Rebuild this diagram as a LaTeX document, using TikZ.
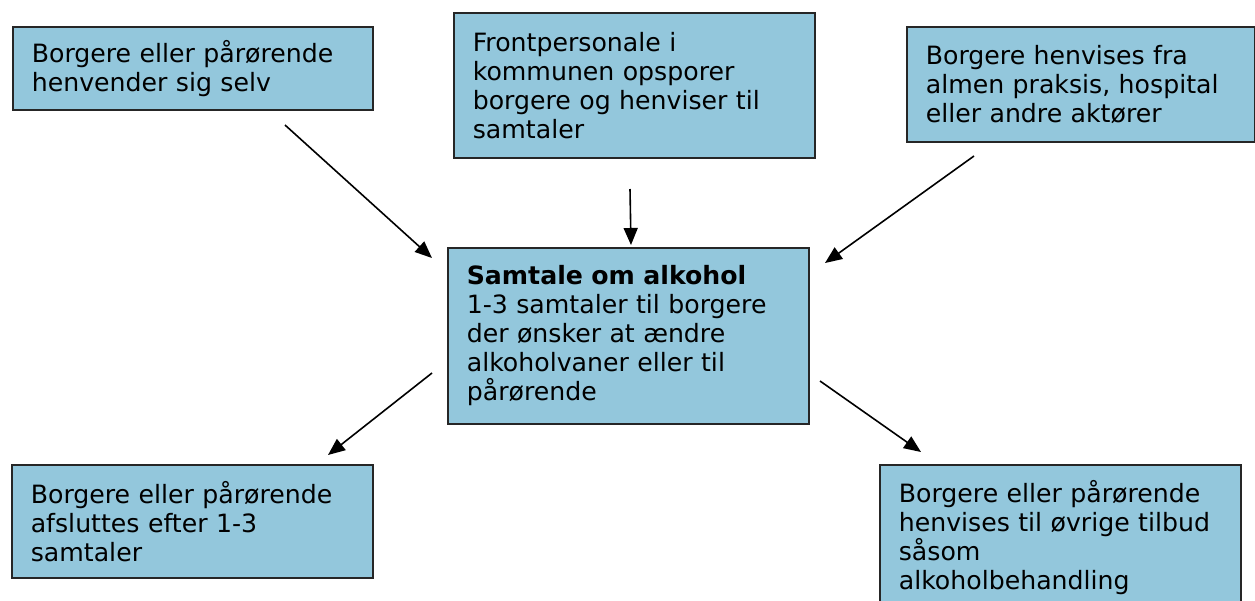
\documentclass[tikz,border=0pt]{standalone}
\usepackage{fontspec}
\setmainfont{DejaVu Sans}
\usepackage{tikz}
\usetikzlibrary{arrows.meta}
\definecolor{boksblaa}{RGB}{147,199,220}
\tikzset{
	>={Triangle[length=17pt,width=14pt]},
	punkt/.style={
		rectangle,
		fill=boksblaa,
		draw=black!85, line width=1.6pt,
		anchor=north west,
		inner xsep=19pt,
		align=left,
		font=\fontsize{25.2}{29}\selectfont},
	pil/.style={draw, line width=1.6pt, ->},
}
\begin{document}
\begin{tikzpicture}[x=1pt,y=-1pt]
	\useasboundingbox (0,0) rectangle (1255,600);
	\clip (0,0) rectangle (1255,600);
	% kasser
	\node[punkt, text width=322pt, minimum width=360pt, minimum height=83pt] (selv) at (12,26)
		{Borgere eller pårørende\\henvender sig selv};
	\node[punkt, text width=323pt, minimum width=361pt, minimum height=145pt] (front) at (453,12)
		{Frontpersonale i\\kommunen opsporer\\borgere og henviser til\\samtaler};
	\node[punkt, text width=310pt, minimum width=348pt, minimum height=115pt] (henvist) at (906,26)
		{Borgere henvises fra\\almen praksis, hospital\\eller andre aktører};
	\node[punkt, text width=323pt, minimum width=361pt, minimum height=176pt] (samtale) at (447,247)
		{\textbf{Samtale om alkohol}\\1-3 samtaler til borgere\\der ønsker at ændre\\alkoholvaner eller til\\pårørende};
	\node[punkt, text width=323pt, minimum width=361pt, minimum height=113pt] (afslut) at (11,464)
		{Borgere eller pårørende\\afsluttes efter 1-3\\samtaler};
	\node[punkt, text width=323pt, minimum width=361pt, minimum height=145pt] (tilbud) at (879,464)
		{Borgere eller pårørende\\henvises til øvrige tilbud\\såsom\\alkoholbehandling};
	% pile
	\coordinate (selv-ud) at (285,125);
	\coordinate (selv-ind) at (432,258);
	\coordinate (front-ud) at (630,189);
	\coordinate (front-ind) at (631,245);
	\coordinate (henvist-ud) at (974,156);
	\coordinate (henvist-ind) at (825,263);
	\coordinate (afslut-ud) at (432,373);
	\coordinate (afslut-ind) at (328,455);
	\coordinate (tilbud-ud) at (820,381);
	\coordinate (tilbud-ind) at (921,452);
	\path[pil] (selv-ud) -- (selv-ind);
	\path[pil] (front-ud) -- (front-ind);
	\path[pil] (henvist-ud) -- (henvist-ind);
	\path[pil] (afslut-ud) -- (afslut-ind);
	\path[pil] (tilbud-ud) -- (tilbud-ind);
\end{tikzpicture}
\end{document}
